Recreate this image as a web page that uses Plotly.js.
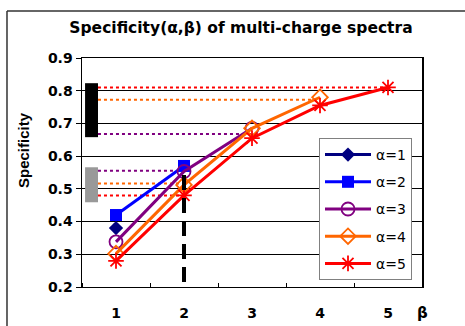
<!DOCTYPE html>
<html>
<head>
<meta charset="utf-8">
<script src="https://cdn.plot.ly/plotly-3.0.1.min.js"></script>
<style>html,body{margin:0;padding:0;background:#fff;}#chart{width:465px;height:326px;}</style>
</head>
<body>
<div id="chart"></div>
<script>
// ---- data ----
const beta = [1, 2, 3, 4, 5];
const betaLabels = ["1", "2", "3", "4", "5"];
const alpha1 = [0.38];
const alpha2 = [0.42, 0.57];
const alpha3 = [0.338, 0.553, 0.685];
const alpha4 = [0.302, 0.512, 0.685, 0.78];
const alpha5 = [0.28, 0.48, 0.655, 0.755, 0.81];
const seriesNames = ["α=1", "α=2", "α=3", "α=4", "α=5"];
const seriesColors = ["#000080", "#0000FF", "#800080", "#FF6600", "#FF0000"];
// reference levels (dotted lines)
const refLevelsHigh = [0.81, 0.772, 0.668];
const refLevelsLow = [0.555, 0.516, 0.48];
const refColors = ["#FF0000", "#FF6600", "#800080"];
const refColorsLow = ["#800080", "#FF6600", "#FF0000"];
const refEndHigh = [5, 4, 3];
const refEndLow = [2, 2, 2];
// range bars at left
const blackBar = [0.658, 0.823];
const grayBar = [0.459, 0.566];
const dashLine = [0.215, 0.565];
const yTicks = [0.2, 0.3, 0.4, 0.5, 0.6, 0.7, 0.8, 0.9];

const allY = [alpha1, alpha2, alpha3, alpha4, alpha5];
const symbols = ["diamond", "square", "circle-open", "diamond-open", "asterisk-open"];
const sizes = [11, 12, 13, 12, 13];

const traces = allY.map((ys, i) => ({
  type: "scatter",
  mode: "lines+markers",
  x: beta.slice(0, ys.length),
  y: ys,
  name: seriesNames[i],
  legendgroup: "g" + i,
  line: {color: seriesColors[i], width: 3},
  marker: {symbol: symbols[i], size: sizes[i], color: seriesColors[i],
           line: {color: seriesColors[i], width: i >= 2 ? 1.8 : 0}}
}));

const barX0 = 0.545, barX1 = 0.735;
const shapes = [];
shapes.push({type: "rect", xref: "x", yref: "y", x0: barX0, x1: barX1, y0: blackBar[0], y1: blackBar[1],
  fillcolor: "#000000", line: {width: 0}, layer: "between"});
shapes.push({type: "rect", xref: "x", yref: "y", x0: barX0, x1: barX1, y0: grayBar[0], y1: grayBar[1],
  fillcolor: "#999999", line: {width: 0}, layer: "between"});
refLevelsHigh.forEach((v, i) => shapes.push({type: "line", xref: "x", yref: "y", x0: barX1, x1: refEndHigh[i],
  y0: v, y1: v, line: {color: refColors[i], width: 2, dash: "dot"}, layer: "between"}));
refLevelsLow.forEach((v, i) => shapes.push({type: "line", xref: "x", yref: "y", x0: barX1, x1: refEndLow[i],
  y0: v, y1: v, line: {color: refColorsLow[i], width: 2, dash: "dot"}, layer: "between"}));
shapes.push({type: "line", xref: "x", yref: "y", x0: 2, x1: 2, y0: dashLine[0], y1: dashLine[1],
  line: {color: "#000000", width: 4, dash: "15px,8px"}, layer: "above"});
// outer frame (top and left edges visible)
shapes.push({type: "line", xref: "paper", yref: "paper", x0: -0.2206, x1: 1.2, y0: 1.2052, y1: 1.2052,
  line: {color: "#333333", width: 1.5}});
shapes.push({type: "line", xref: "paper", yref: "paper", x0: -0.2206, x1: -0.2206, y0: -0.3, y1: 1.2052,
  line: {color: "#333333", width: 1.5}});

const layout = {
  width: 465, height: 326,
  margin: {l: 82, r: 43, t: 58, b: 39},
  paper_bgcolor: "#ffffff", plot_bgcolor: "#ffffff",
  showlegend: true,
  title: {text: "Specificity(α,β) of multi-charge spectra", font: {family: "DejaVu Sans", size: 15.5, color: "#000", weight: "bold"},
          x: 241 / 465, xanchor: "center", y: 1 - 28/326, yanchor: "middle", yref: "container"},
  xaxis: {range: [0.5, 5.5], tickvals: beta, ticktext: betaLabels, ticks: "", showgrid: false, zeroline: false,
          showline: true, linecolor: "#000", linewidth: 1, mirror: true,
          tickfont: {family: "DejaVu Sans", size: 14, color: "#000", weight: "bold"}, ticklabelstandoff: 13,
          minor: {ticks: "inside", tick0: 0.5, dtick: 1, ticklen: 4, tickcolor: "#000", showgrid: false}},
  yaxis: {range: [0.2, 0.9], tickvals: yTicks, tickformat: ".1f", ticks: "outside", ticklen: 5, tickcolor: "#000",
          showgrid: true, gridcolor: "#000", gridwidth: 1, zeroline: false,
          showline: true, linecolor: "#000", linewidth: 1.5, mirror: true,
          tickfont: {family: "DejaVu Sans", size: 14, color: "#000", weight: "bold"}},
  legend: {x: (319 - 82) / 340, y: (287 - 138) / 229, xanchor: "left", yanchor: "top",
           bgcolor: "#ffffff", bordercolor: "#808080", borderwidth: 1,
           font: {family: "DejaVu Sans", size: 14, color: "#000"}, itemwidth: 46, tracegroupgap: 6},
  shapes: shapes,
  annotations: [
    {text: "Specificity", xref: "paper", yref: "paper", x: (23 - 82) / 340, y: (287 - 150) / 229,
     textangle: -90, showarrow: false, xanchor: "center", yanchor: "middle",
     font: {family: "Liberation Sans", size: 15, color: "#000", weight: "bold"}},
    {text: "β", xref: "paper", yref: "paper", x: 1, y: -(313 - 287) / 229, showarrow: false,
     xanchor: "center", yanchor: "middle", font: {family: "DejaVu Sans", size: 15, color: "#000", weight: "bold"}}
  ]
};

Plotly.newPlot("chart", traces, layout, {displayModeBar: false, staticPlot: true});
</script>
</body>
</html>
